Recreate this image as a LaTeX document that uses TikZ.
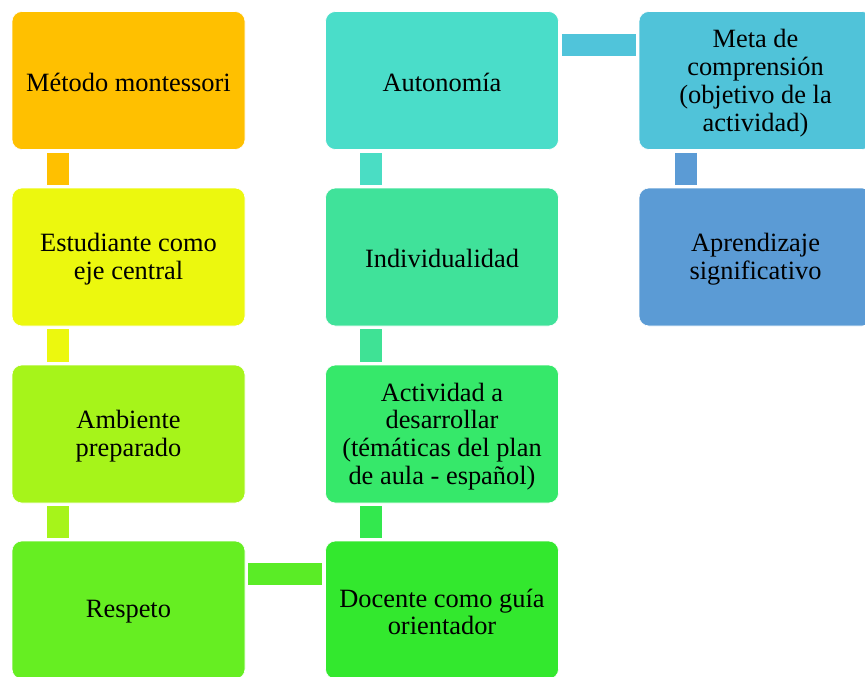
\documentclass[tikz,border=0pt]{standalone}
\usepackage{fontspec}
\setmainfont{Liberation Serif}
\definecolor{cMet}{HTML}{FFC000}
\definecolor{cEst}{HTML}{ECF80E}
\definecolor{cAmb}{HTML}{A6F41A}
\definecolor{cRes}{HTML}{66EE22}
\definecolor{cDoc}{HTML}{33E82E}
\definecolor{cAct}{HTML}{36E86A}
\definecolor{cInd}{HTML}{40E29A}
\definecolor{cAut}{HTML}{4ADDC9}
\definecolor{cMeta}{HTML}{50C3D9}
\definecolor{cApr}{HTML}{5B9BD5}
\definecolor{kRD}{HTML}{5AEC26}
\definecolor{kDA}{HTML}{33E84E}
\definecolor{kAI}{HTML}{3FE295}
\definecolor{kIA}{HTML}{4ADDC4}
\definecolor{kAM}{HTML}{50C4DA}
\tikzset{
  box/.style={draw=white, line width=0.6pt, rounded corners=10pt, minimum width=233pt, minimum height=138pt, align=center, inner sep=0pt, font=\fontsize{26.4}{27.8}\selectfont, text=black},
  lbl/.style={align=center, inner sep=0pt, font=\fontsize{26.4}{27.8}\selectfont, text=black},
  conn/.style={line width=22pt, shorten <=3pt, shorten >=3pt}
}
\begin{document}
\begin{tikzpicture}[x=1pt,y=-1pt]
\useasboundingbox (0,0) rectangle (865,677);
% column 1
\node[box, fill=cMet] (met) at (128.5,80.5) {};
\node[box, fill=cEst] (est) at (128.5,257) {};
\node[box, fill=cAmb] (amb) at (128.5,434) {};
\node[box, fill=cRes] (res) at (128.5,610) {};
% column 2
\node[box, fill=cDoc] (doc) at (442,610) {};
\node[box, fill=cAct] (act) at (442,434) {};
\node[box, fill=cInd] (ind) at (442,257) {};
\node[box, fill=cAut] (aut) at (442,80.5) {};
% column 3
\node[box, fill=cMeta] (meta) at (755.5,80.5) {};
\node[box, fill=cApr] (apr) at (755.5,257) {};
% labels
\node[lbl] (tmet) at ([yshift=-1.5pt]met.center) {Método montessori};
\node[lbl] (test) at ([yshift=-2pt]est.center) {Estudiante como\\eje central};
\node[lbl] (tamb) at ([yshift=-2pt]amb.center) {Ambiente\\preparado};
\node[lbl] (tres) at ([yshift=-2pt]res.center) {Respeto};
\node[lbl] (tdoc) at ([yshift=-2pt]doc.center) {Docente como guía\\orientador};
\node[lbl] (tact) at ([yshift=-2.5pt]act.center) {Actividad a\\desarrollar\\(témáticas del plan\\de aula - español)};
\node[lbl] (tind) at ([yshift=-1.5pt]ind.center) {Individualidad};
\node[lbl] (taut) at ([yshift=-1.5pt]aut.center) {Autonomía};
\node[lbl] (tmeta) at ([yshift=-2.5pt]meta.center) {Meta de\\comprensión\\(objetivo de la\\actividad)};
\node[lbl] (tapr) at ([yshift=-2pt]apr.center) {Aprendizaje\\significativo};
% connectors
\draw[conn, cMet] ([xshift=46pt]met.south west) -- ([xshift=46pt]est.north west);
\draw[conn, cEst] ([xshift=46pt]est.south west) -- ([xshift=46pt]amb.north west);
\draw[conn, cAmb] ([xshift=46pt]amb.south west) -- ([xshift=46pt]res.north west);
\draw[conn, kRD] ([yshift=-33pt]res.north east) -- ([yshift=-33pt]doc.north west);
\draw[conn, kDA] ([xshift=46pt]doc.north west) -- ([xshift=46pt]act.south west);
\draw[conn, kAI] ([xshift=46pt]act.north west) -- ([xshift=46pt]ind.south west);
\draw[conn, kIA] ([xshift=46pt]ind.north west) -- ([xshift=46pt]aut.south west);
\draw[conn, kAM] ([yshift=-34pt]aut.north east) -- ([yshift=-34pt]meta.north west);
\draw[conn, cApr] ([xshift=47pt]meta.south west) -- ([xshift=47pt]apr.north west);
\end{tikzpicture}
\end{document}
